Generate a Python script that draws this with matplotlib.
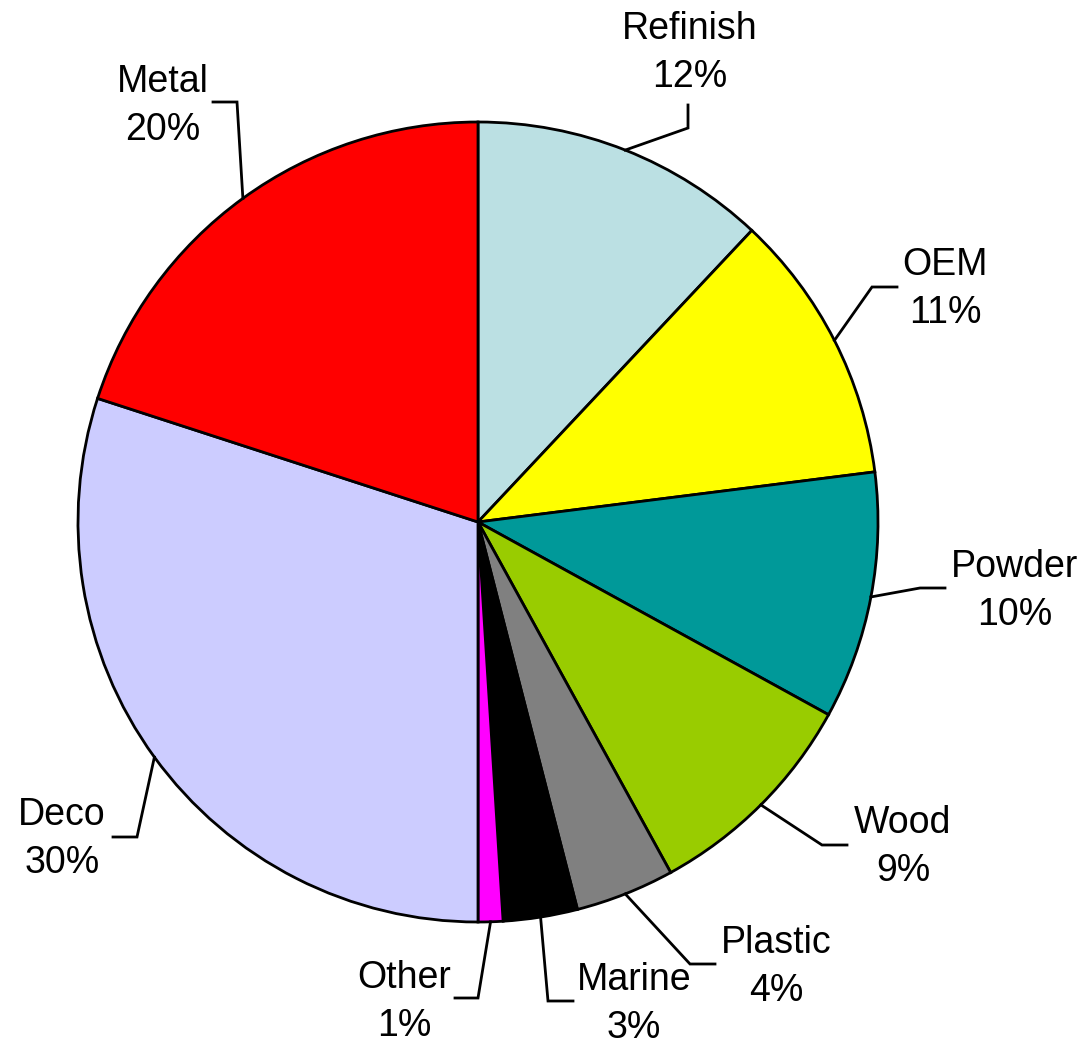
import numpy as np
import matplotlib.pyplot as plt

plt.rcParams['font.family'] = ['Liberation Sans', 'DejaVu Sans']

# slices, clockwise from 12 o'clock
names = ['Refinish', 'OEM', 'Powder', 'Wood', 'Plastic', 'Marine', 'Other', 'Deco', 'Metal']
shares = [12, 11, 10, 9, 4, 3, 1, 30, 20]
colors = ['#BBE0E3', '#FFFF00', '#009999', '#99CC00', '#808080',
          '#000000', '#FF00FF', '#CCCCFF', '#FF0000']

# label layout (pie radius = 1): leader elbow, leader end, name baseline
elbows = [(0.525, 0.985), (0.985, 0.5875), (1.105, -0.165), (0.86, -0.8075),
          (0.53, -1.105), (0.175, -1.1975), (0.0, -1.19), (-0.8525, -0.7875),
          (-0.6025, 1.05)]
ends = [(0.525, 1.0425), (1.0475, 0.5875), (1.1675, -0.165), (0.9225, -0.8075),
        (0.5925, -1.105), (0.2375, -1.1975), (-0.0575, -1.19), (-0.9125, -0.7875),
        (-0.6625, 1.05)]
text_pos = [(0.53, 1.2075), (1.1675, 0.6175), (1.3425, -0.1375), (1.0625, -0.7775),
            (0.745, -1.0775), (0.39, -1.17), (-0.185, -1.165), (-1.04, -0.7575),
            (-0.7875, 1.075)]
line_gap = 0.12

fig = plt.figure(figsize=(10.9, 10.42), dpi=100)
ax = fig.add_axes([0, 0, 1, 1])

ax.pie(shares, colors=colors, startangle=90, counterclock=False,
       radius=1.0, wedgeprops=dict(edgecolor='black', linewidth=2))

cum = np.cumsum(shares)
total = float(sum(shares))
for i, name in enumerate(names):
    mid = np.deg2rad(360.0 * (cum[i] - shares[i] / 2.0) / total)
    sx, sy = np.sin(mid), np.cos(mid)
    ex, ey = elbows[i]
    tx, ty = ends[i]
    ax.plot([sx, ex, tx], [sy, ey, ty], color='black', lw=2,
            solid_joinstyle='miter', zorder=5)
    px, py = text_pos[i]
    ax.text(px, py, name, ha='center', va='baseline', fontsize=27)
    ax.text(px, py - line_gap, '%d%%' % shares[i], ha='center', va='baseline',
            fontsize=27)

ax.set_xlim(-478 / 400.0, (1090 - 478) / 400.0)
ax.set_ylim((522 - 1042) / 400.0, 522 / 400.0)
ax.set_aspect('equal')
ax.axis('off')

fig.savefig('out.png', dpi=100)
